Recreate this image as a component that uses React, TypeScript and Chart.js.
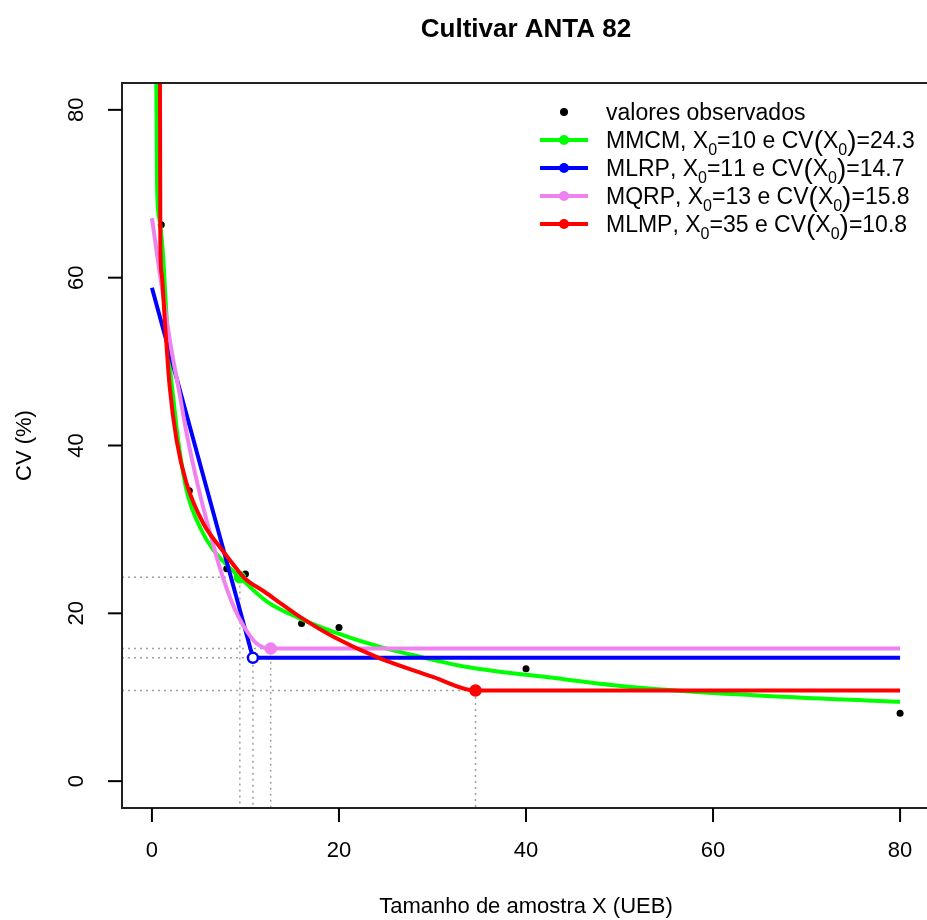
import React, { useEffect, useRef } from "react";
import { Chart, registerables } from "chart.js";

Chart.register(...registerables);

// Observed coefficient of variation by sample size
const obsX = [1, 4, 8, 10, 16, 20, 40, 80];
const obsCV = [66.3, 34.6, 25.3, 24.7, 18.8, 18.3, 13.4, 8.1];

// MMCM fitted curve
const mmcmX = [0.45, 0.55, 0.8, 1.2, 1.4, 1.9, 2.4, 2.7, 3.7, 5.3, 6.6, 9.4, 12.3, 15.8, 19.4, 24.4, 28, 33.7, 42.2, 51.5, 64.3, 80];
const mmcmCV = [88, 71, 67, 62.5, 58.5, 49.8, 44.5, 41.5, 34.7, 29.9, 27.5, 24.3, 21.4, 19.4, 17.8, 16.0, 15.0, 13.6, 12.4, 11.2, 10.25, 9.45];

// MLRP linear response plateau
const mlrpX = [0, 10.8, 80];
const mlrpCV = [58.8, 14.7, 14.7];

// MQRP quadratic response plateau
const mqrpX = [0, 0.7, 1.6, 2.1, 3, 3.7, 5, 6.2, 7.3, 8.7, 9.8, 11.2, 12.7, 80];
const mqrpCV = [67.1, 61.6, 54.8, 51.3, 45.9, 41.5, 34.8, 29.6, 25.3, 20.9, 18.5, 16.4, 15.8, 15.8];

// MLMP curve with plateau
const mlmpX = [0.85, 0.9, 1.03, 1.4, 1.9, 2.64, 3.7, 5.5, 7.27, 9.06, 10, 12, 14, 15.8, 19.4, 24, 30.1, 34.6, 80];
const mlmpCV = [90, 64, 60.5, 54.5, 47, 40.6, 35.5, 30.7, 27.9, 25.3, 24.1, 22.6, 21.0, 19.6, 17.2, 14.8, 12.4, 10.8, 10.8];

// Optimal plot size (X0) and CV at X0 for each method
const x0Values = [9.4, 10.8, 12.7, 34.6];
const cv0Values = [24.3, 14.7, 15.8, 10.8];

const modelNames = ["MMCM", "MLRP", "MQRP", "MLMP"];
const modelColors = ["#00ff00", "#0000ff", "#ee82ee", "#ff0000"];
const markerFills = ["#00ff00", "#ffffff", "#ee82ee", "#ff0000"];
const legendLabels = [
  "valores observados",
  "MMCM, X₀=10 e CV(X₀)=24.3",
  "MLRP, X₀=11 e CV(X₀)=14.7",
  "MQRP, X₀=13 e CV(X₀)=15.8",
  "MLMP, X₀=35 e CV(X₀)=10.8",
];

const xTicks = [0, 20, 40, 60, 80];
const yTicks = [0, 20, 40, 60, 80];
const AXIS_MIN = -3.2;
const AXIS_MAX = 83.2;

const titleText = "Cultivar ANTA 82";
const xTitle = "Tamanho de amostra X (UEB)";
const yTitle = "CV (%)";

const FONT = "'Liberation Sans', Arial, Helvetica, sans-serif";

const pts = (xs: number[], ys: number[]) => xs.map((x, i) => ({ x, y: ys[i] }));

function drawRich(ctx: CanvasRenderingContext2D, text: string, x: number, y: number, size: number) {
  let cx = x;
  for (const ch of Array.from(text)) {
    if (ch === "₀") {
      ctx.font = `${Math.round(size * 0.68)}px ${FONT}`;
      ctx.fillText("0", cx, y + size * 0.3);
      cx += ctx.measureText("0").width;
    } else if (ch === "(" || ch === ")") {
      ctx.font = `${Math.round(size * 1.22)}px ${FONT}`;
      ctx.fillText(ch, cx, y + size * 0.1);
      cx += ctx.measureText(ch).width;
    } else {
      ctx.font = `${size}px ${FONT}`;
      ctx.fillText(ch, cx, y);
      cx += ctx.measureText(ch).width;
    }
  }
}

const decorPlugin = {
  id: "decor",
  beforeDraw(chart: any) {
    const ctx = chart.ctx;
    ctx.save();
    ctx.fillStyle = "#ffffff";
    ctx.fillRect(0, 0, chart.width, chart.height);
    ctx.restore();
  },
  afterDraw(chart: any) {
    const ctx: CanvasRenderingContext2D = chart.ctx;
    const area = chart.chartArea;
    const xs = chart.scales.x;
    const ys = chart.scales.y;
    ctx.save();

    // frame
    ctx.strokeStyle = "#222";
    ctx.lineWidth = 2;
    ctx.strokeRect(area.left, area.top, area.right - area.left, area.bottom - area.top);

    // x axis ticks and labels
    ctx.fillStyle = "#000";
    ctx.strokeStyle = "#000";
    ctx.lineWidth = 2;
    ctx.font = `22px ${FONT}`;
    ctx.textAlign = "center";
    ctx.textBaseline = "middle";
    for (const t of xTicks) {
      const px = xs.getPixelForValue(t);
      ctx.beginPath();
      ctx.moveTo(px, area.bottom);
      ctx.lineTo(px, area.bottom + 14);
      ctx.stroke();
      ctx.fillText(String(t), px, area.bottom + 43);
    }

    // y axis ticks and rotated labels
    for (const t of yTicks) {
      const py = ys.getPixelForValue(t);
      ctx.beginPath();
      ctx.moveTo(area.left, py);
      ctx.lineTo(area.left - 14, py);
      ctx.stroke();
      ctx.save();
      ctx.translate(area.left - 45, py);
      ctx.rotate(-Math.PI / 2);
      ctx.fillText(String(t), 0, 0);
      ctx.restore();
    }

    // axis titles
    const cx = (area.left + area.right) / 2;
    ctx.font = `22px ${FONT}`;
    ctx.fillText(xTitle, cx, area.bottom + 99);
    ctx.save();
    ctx.translate(area.left - 97, (area.top + area.bottom) / 2);
    ctx.rotate(-Math.PI / 2);
    ctx.fillText(yTitle, 0, 0);
    ctx.restore();

    // main title
    ctx.font = `bold 26px ${FONT}`;
    ctx.fillText(titleText, cx, 30);

    // legend
    const rowY = [112, 140, 168, 196, 224];
    const symX = 564;
    const textX = 606;
    ctx.textAlign = "left";
    ctx.textBaseline = "alphabetic";
    legendLabels.forEach((label, i) => {
      const y = rowY[i];
      if (i === 0) {
        ctx.fillStyle = "#000";
        ctx.beginPath();
        ctx.arc(symX, y, 4, 0, Math.PI * 2);
        ctx.fill();
      } else {
        const col = modelColors[i - 1];
        ctx.strokeStyle = col;
        ctx.lineWidth = 4;
        ctx.beginPath();
        ctx.moveTo(symX - 24, y);
        ctx.lineTo(symX + 24, y);
        ctx.stroke();
        ctx.fillStyle = col;
        ctx.beginPath();
        ctx.arc(symX, y, 5, 0, Math.PI * 2);
        ctx.fill();
      }
      ctx.fillStyle = "#000";
      drawRich(ctx, label, textX, y + 8, 23);
    });

    ctx.restore();
  },
};

function guide(i: number) {
  return {
    label: "guide " + modelNames[i],
    data: [
      { x: AXIS_MIN, y: cv0Values[i] },
      { x: x0Values[i], y: cv0Values[i] },
      { x: x0Values[i], y: AXIS_MIN },
    ],
    showLine: true,
    borderColor: "#a0a0a0",
    borderWidth: 1.5,
    borderDash: [2, 4],
    pointRadius: 0,
    tension: 0,
    order: 20,
    clip: 0,
  };
}

function curve(i: number, xs: number[], ys: number[], smooth: boolean) {
  return {
    label: modelNames[i],
    data: pts(xs, ys),
    showLine: true,
    borderColor: modelColors[i],
    borderWidth: 4,
    pointRadius: 0,
    cubicInterpolationMode: smooth ? "monotone" : "default",
    tension: 0,
    borderJoinStyle: "round",
    order: 10 - 2 * i,
    clip: 0,
  };
}

function marker(i: number) {
  return {
    label: modelNames[i] + " X0",
    data: [{ x: x0Values[i], y: cv0Values[i] }],
    pointRadius: 5,
    pointBorderWidth: 2.5,
    pointBorderColor: modelColors[i],
    pointBackgroundColor: markerFills[i],
    order: 9 - 2 * i,
  };
}

export default function App() {
  const ref = useRef<HTMLCanvasElement>(null);

  useEffect(() => {
    if (!ref.current) return;
    const chart = new Chart(ref.current, {
      type: "scatter",
      data: {
        datasets: [
          guide(0),
          guide(1),
          guide(2),
          guide(3),
          {
            label: "valores observados",
            data: pts(obsX, obsCV),
            pointRadius: 3.5,
            pointBackgroundColor: "#000",
            pointBorderColor: "#000",
            pointBorderWidth: 0,
            order: 15,
          },
          curve(0, mmcmX, mmcmCV, true),
          curve(1, mlrpX, mlrpCV, false),
          curve(2, mqrpX, mqrpCV, true),
          curve(3, mlmpX, mlmpCV, true),
          marker(0),
          marker(1),
          marker(2),
          marker(3),
        ] as any,
      },
      options: {
        animation: false,
        responsive: false,
        devicePixelRatio: 1,
        layout: { padding: { left: 122, top: 83, right: 15, bottom: 112 } },
        plugins: {
          legend: { display: false },
          tooltip: { enabled: false },
          title: { display: false },
        },
        events: [],
        scales: {
          x: { type: "linear", min: AXIS_MIN, max: AXIS_MAX, display: false },
          y: { type: "linear", min: AXIS_MIN, max: AXIS_MAX, display: false },
        },
      } as any,
      plugins: [decorPlugin],
    });
    return () => chart.destroy();
  }, []);

  return (
    <div
      style={{
        position: "fixed",
        left: 0,
        top: 0,
        width: 927,
        height: 920,
        overflow: "hidden",
        background: "#fff",
      }}
    >
      <canvas ref={ref} width={945} height={920} style={{ display: "block", width: 945, height: 920 }} />
    </div>
  );
}
